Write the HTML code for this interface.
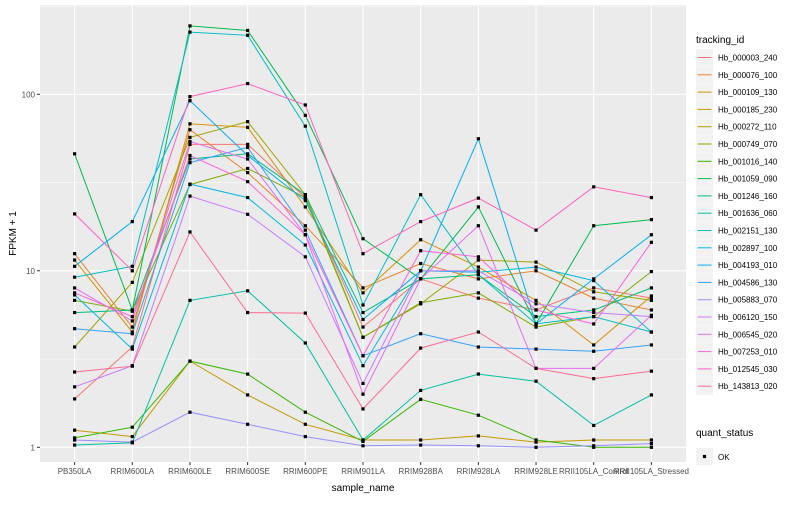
<!DOCTYPE html>
<html><head><meta charset="utf-8"><style>
body{margin:0;background:#fff;font-family:"Liberation Sans",sans-serif}
svg text{font-family:"Liberation Sans",sans-serif}
</style></head><body>
<svg id="chart" width="800" height="500">
<rect width="800" height="500" fill="#fff"/>
<g id="panel"></g>
<g id="legend"></g>
</svg>
<script>
const categories=["PB350LA","RRIM600LA","RRIM600LE","RRIM600SE","RRIM600PE","RRIM901LA","RRIM928BA","RRIM928LA","RRIM928LE","RRII105LA_Control","RRII105LA_Stressed"];
const seriesNames=["Hb_000003_240","Hb_000076_100","Hb_000109_130","Hb_000185_230","Hb_000272_110","Hb_000749_070","Hb_001016_140","Hb_001059_090","Hb_001246_160","Hb_001636_060","Hb_002151_130","Hb_002897_100","Hb_004193_010","Hb_004586_130","Hb_005883_070","Hb_006120_150","Hb_006545_020","Hb_007253_010","Hb_012545_030","Hb_143813_020"];
const s01=[1.88,3.7,52,52,26,4.8,9.0,7.0,6.0,8.0,7.0];
const s02=[12.5,4.8,63,36,18,8,11,9.0,10.0,7.0,6.0];
const s03=[11.5,4.5,68,65,23,7.5,15,10.5,6.8,3.8,7.2];
const s04=[1.25,1.15,3.08,1.98,1.35,1.1,1.1,1.16,1.07,1.1,1.1];
const s05=[3.7,8.6,57,70,27,4.2,6.5,11.5,11.2,7.6,6.8];
const s06=[6.8,5.9,30.8,38,26,4.2,6.6,7.5,4.8,5.5,9.9];
const s07=[1.13,1.3,3.08,2.6,1.58,1.08,1.87,1.52,1.1,1.0,1.0];
const s08=[46,6.0,244,230,76,15.2,9,23,5.0,18,19.5];
const s09=[5.8,6.0,43,46,27,5.8,9,9.5,5.5,6.0,8];
const s10=[1.03,1.06,6.8,7.7,3.9,1.1,2.1,2.6,2.37,1.33,1.98];
const s11=[9.2,10.6,225,216,66,6.4,27,9.5,5.0,5.5,4.5];
const s12=[7.3,3.6,31,26,14,2.9,10,9.8,10.5,8.8,4.5];
const s13=[10.6,19,92,45,25,5.3,10,56,5.0,9.0,16];
const s14=[4.7,4.4,41,50,17,3.3,4.4,3.7,3.6,3.5,3.8];
const s15=[1.1,1.07,1.58,1.35,1.15,1.02,1.03,1.02,1.0,1.02,1.05];
const s16=[2.2,2.9,26.5,20.9,12,2.3,10,10,6.5,5.8,5.5];
const s17=[8.0,5.2,54,43,16,2.0,9,18,2.8,2.8,5.6];
const s18=[7.5,5.5,45,32,16,3.3,13,12,6,5.0,14.5];
const s19=[21,10,97,115,87,12.5,19,25.8,17,29.9,26];
const s20=[2.67,2.88,16.6,5.8,5.76,1.65,3.65,4.5,2.8,2.45,2.7];
const seriesValues=[s01,s02,s03,s04,s05,s06,s07,s08,s09,s10,s11,s12,s13,s14,s15,s16,s17,s18,s19,s20];
const colors=["#F8766D","#EA8331","#D89000","#C09B00","#A3A500","#7CAE00","#39B600","#00BB4E","#00BF7D","#00C1A3","#00BFC4","#00BAE0","#00B0F6","#35A2FF","#9590FF","#C77CFF","#E76BF3","#FA62DB","#FF62BC","#FF6C91"];
const yTicks=[1,10,100];
const yMinor=[Math.sqrt(10),Math.sqrt(1000),Math.sqrt(100000)];

const NS="http://www.w3.org/2000/svg";
const PL=40,PR=686,PT=5,PB=462;
const step=(PR-PL)/(categories.length-1+1.2);
function xScale(i){return PL+0.6*step+i*step;}
function yScale(v){return 447.3-Math.log10(v)*176.5;}
function mk(tag,attrs,parent){const e=document.createElementNS(NS,tag);for(const k in attrs)e.setAttribute(k,attrs[k]);parent.appendChild(e);return e;}
const panel=document.getElementById('panel');
const bg=mk('rect',{x:PL,y:PT,width:PR-PL,height:PB-PT,fill:'#EBEBEB'},panel);


yMinor.forEach(v=>{const y=yScale(v);if(y<PT||y>PB)return;const l=mk('line',{x1:PL,x2:PR,y1:y,y2:y,stroke:'#fff','stroke-width':0.5},panel);

});
yTicks.forEach(v=>{const y=yScale(v);const l=mk('line',{x1:PL,x2:PR,y1:y,y2:y,stroke:'#fff','stroke-width':1.1},panel);


const tk=mk('line',{x1:PL-3,x2:PL,y1:y,y2:y,stroke:'#333','stroke-width':1},panel);


const t=mk('text',{x:PL-5,y:y+3,'text-anchor':'end','font-size':8,fill:'#4D4D4D'},panel);t.textContent=v;

});
categories.forEach((c,i)=>{const x=xScale(i);const l=mk('line',{x1:x,x2:x,y1:PT,y2:PB,stroke:'#fff','stroke-width':1.1},panel);


const tk=mk('line',{x1:x,x2:x,y1:PB,y2:PB+3,stroke:'#333','stroke-width':1},panel);


const t=mk('text',{x:x,y:PB+12,'text-anchor':'middle','font-size':8,fill:'#4D4D4D'},panel);t.textContent=c;

});
seriesValues.forEach((vals,si)=>{const pts=vals.map((v,i)=>xScale(i).toFixed(1)+','+yScale(v).toFixed(1)).join(' ');
const pl=mk('polyline',{points:pts,fill:'none',stroke:colors[si],'stroke-width':1},panel);

});
seriesValues.forEach((vals,si)=>{vals.forEach((v,i)=>{const r=mk('rect',{x:xScale(i)-1.6,y:yScale(v)-1.6,width:3.2,height:3.2,fill:'#000'},panel);

});});
const xt=mk('text',{x:(PL+PR)/2,y:491,'text-anchor':'middle','font-size':10,fill:'#000'},panel);xt.textContent='sample_name';


const yt=mk('text',{x:0,y:0,transform:'translate(16,'+((PT+PB)/2)+') rotate(-90)','text-anchor':'middle','font-size':10,fill:'#000'},panel);yt.textContent='FPKM + 1';


const lg=document.getElementById('legend');
const lt=mk('text',{x:696,y:43,'font-size':10,fill:'#000'},lg);lt.textContent='tracking_id';


seriesNames.forEach((n,i)=>{const y=49+i*17.3;
const g=mk('g',{},lg);


mk('rect',{x:696,y:y,width:17,height:17,fill:'#F2F2F2'},g);
mk('line',{x1:697.5,x2:711.5,y1:y+8.5,y2:y+8.5,stroke:colors[i],'stroke-width':1},g);
const t=mk('text',{x:718,y:y+11.5,'font-size':8,fill:'#000'},g);t.textContent=n;});
const qt=mk('text',{x:696,y:436,'font-size':10,fill:'#000'},lg);qt.textContent='quant_status';


const q=mk('g',{},lg);


mk('rect',{x:696,y:448,width:17,height:17,fill:'#F2F2F2'},q);
mk('rect',{x:702.9,y:454.9,width:3.2,height:3.2,fill:'#000'},q);
const qk=mk('text',{x:718,y:460,'font-size':8,fill:'#000'},q);qk.textContent='OK';
</script>
</body></html>
